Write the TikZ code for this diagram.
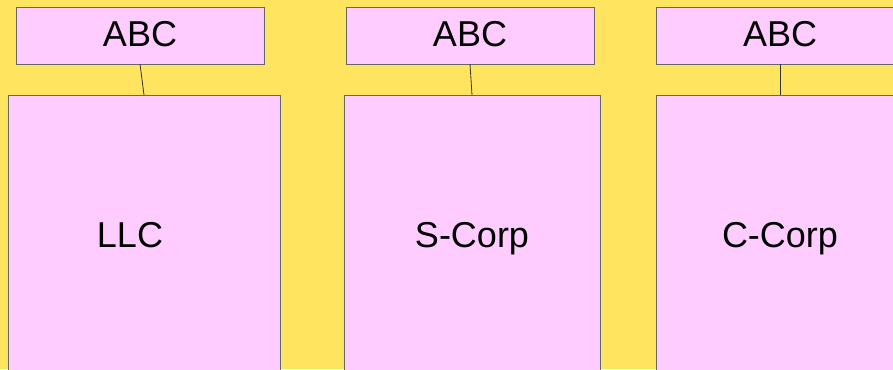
\documentclass[tikz,border=0pt]{standalone}
\usepackage{fontspec}
\setmainfont{Liberation Sans}
\definecolor{bgyellow}{HTML}{FFE45F}
\definecolor{boxpink}{HTML}{FFCCFF}
\definecolor{edgegray}{HTML}{666666}
\begin{document}
\begin{tikzpicture}[x=1pt,y=-1pt,
  box/.style={draw=edgegray, fill=boxpink, line width=1pt, inner sep=0pt, outer sep=0pt,
    text height=26pt, text depth=4pt, font=\fontsize{36}{43}\selectfont},
  tag/.style={box, minimum width=248pt, minimum height=56pt},
  entity/.style={box, minimum height=282pt},
  link/.style={draw=black!80, line width=0.8pt}]
  \useasboundingbox (0,0) rectangle (893,369);
  \fill[bgyellow] (0,0) rectangle (893,369);
  \clip (0,0) rectangle (893,369);

  % small header boxes
  \node[tag] (t1) at (140,36) {ABC};
  \node[tag] (t2) at (470,36) {ABC};
  \node[tag] (t3) at (780,36) {ABC};

  % tall entity boxes running past the lower edge
  \node[entity, minimum width=272pt] (b1) at (144,236) {\hspace*{-28pt}LLC};
  \node[entity, minimum width=256pt] (b2) at (472,236) {S-Corp};
  \node[entity, minimum width=248pt] (b3) at (780,236) {C-Corp};

  % connectors
  \draw[link] (t1.south) -- (b1.north);
  \draw[link] (t2.south) -- (b2.north);
  \draw[link] (t3.south) -- (b3.north);
\end{tikzpicture}
\end{document}
